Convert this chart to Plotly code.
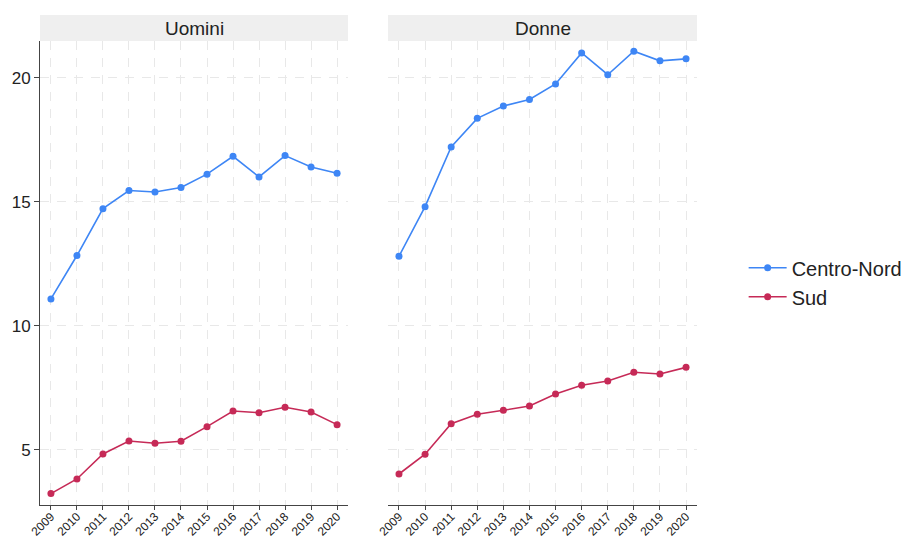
import plotly.graph_objects as go

years = list(range(2009, 2021))
uomini_cn = [11.09, 12.84, 14.73, 15.46, 15.40, 15.58, 16.12, 16.84, 16.01, 16.87, 16.41, 16.16]
uomini_sud = [3.24, 3.83, 4.84, 5.36, 5.27, 5.35, 5.94, 6.57, 6.50, 6.72, 6.53, 6.02]
donne_cn = [12.81, 14.81, 17.22, 18.37, 18.87, 19.13, 19.76, 21.01, 20.13, 21.08, 20.69, 20.77]
donne_sud = [4.03, 4.83, 6.06, 6.44, 6.60, 6.77, 7.26, 7.61, 7.78, 8.13, 8.06, 8.33]
panels = ["Uomini", "Donne"]
series_names = ["Centro-Nord", "Sud"]
colors = ["#3E86F5", "#C62A57"]

fig = go.Figure()
data = [(uomini_cn, uomini_sud, "x", "y"), (donne_cn, donne_sud, "x2", "y2")]
for i, (cn, sud, xa, ya) in enumerate(data):
    for j, vals in enumerate([cn, sud]):
        fig.add_trace(go.Scatter(
            x=years, y=vals, mode="lines+markers", name=series_names[j],
            line=dict(color=colors[j], width=1.6),
            marker=dict(color=colors[j], size=7),
            xaxis=xa, yaxis=ya, showlegend=(i == 0),
        ))

grid_dash = "9px,8px"
axis_common = dict(
    range=[2008.58, 2020.42], tickmode="array", tickvals=years,
    ticktext=[str(y) for y in years], tickangle=-45,
    showgrid=True, gridcolor="#E8E8E8", griddash=grid_dash, gridwidth=1.2,
    showline=True, linecolor="#444444", linewidth=1,
    ticks="outside", ticklen=4, tickcolor="#444444", ticklabelstandoff=-5,
    tickfont=dict(size=12, color="#222222"), zeroline=False, automargin=False,
)
yaxis_common = dict(
    range=[2.78, 21.49], tickvals=[5, 10, 15, 20],
    showgrid=True, gridcolor="#E8E8E8", griddash=grid_dash, gridwidth=1.2,
    zeroline=False, tickfont=dict(size=17, color="#222222"), automargin=False,
)

fig.update_layout(
    width=902, height=532,
    margin=dict(l=32, r=213, t=33, b=35, autoexpand=False),
    paper_bgcolor="white", plot_bgcolor="white",
    font=dict(family="Liberation Sans, Arial, sans-serif", color="#222222"),
    xaxis=dict(domain=[0, 0.4688], anchor="y", **axis_common),
    xaxis2=dict(domain=[0.5297, 1], anchor="y2", **axis_common),
    yaxis=dict(anchor="x", showline=True, linecolor="#444444", linewidth=1,
               ticks="outside", ticklen=5, tickcolor="#444444", **yaxis_common),
    yaxis2=dict(anchor="x2", matches="y", showline=False, showticklabels=False,
                ticks="", **yaxis_common),
    legend=dict(x=1.071, y=0.48, xanchor="left", yanchor="middle",
                font=dict(size=20), bgcolor="rgba(0,0,0,0)", itemwidth=38),
    hovermode=False,
)

doms = [[0, 0.4688], [0.5297, 1]]
for k, name in enumerate(panels):
    fig.add_shape(type="rect", xref="paper", yref="paper",
                  x0=doms[k][0], x1=doms[k][1], y0=1.0, y1=1.056,
                  fillcolor="#EFEFEF", line=dict(width=0), layer="below")
    fig.add_annotation(text=name, xref="paper", yref="paper",
                       x=(doms[k][0] + doms[k][1]) / 2, y=1.028,
                       showarrow=False, font=dict(size=19, color="#222222"),
                       xanchor="center", yanchor="middle")

fig.write_html("out.html")
